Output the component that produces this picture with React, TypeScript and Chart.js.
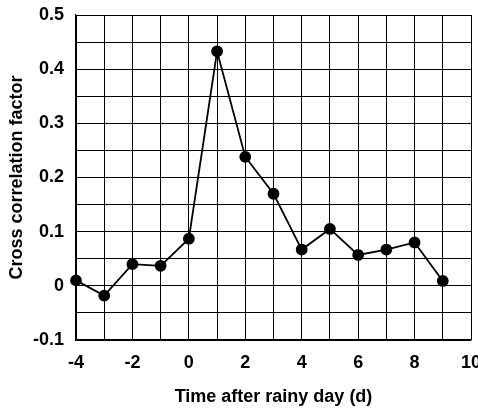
import React, { useEffect, useRef } from "react";
import { Chart, registerables } from "chart.js";

Chart.register(...registerables);

// Lag in days relative to the rainy day
const lagDays: number[] = [-4, -3, -2, -1, 0, 1, 2, 3, 4, 5, 6, 7, 8, 9];
// Cross correlation factor at each lag
const crossCorrelation: number[] = [
  0.01, -0.018, 0.04, 0.037, 0.087, 0.433, 0.238, 0.17, 0.067, 0.105, 0.057, 0.067, 0.08, 0.009,
];

const xMin = -4;
const xMax = 10;
const yMin = -0.1;
const yMax = 0.5;

const xTitle = "Time after rainy day (d)";
const yTitle = "Cross correlation factor";

const FONT = "Arial, 'Liberation Sans', Helvetica, sans-serif";

export default function App() {
  const canvasRef = useRef<HTMLCanvasElement | null>(null);

  useEffect(() => {
    document.body.style.margin = "0";
    const canvas = canvasRef.current;
    if (!canvas) return;

    const points = lagDays.map((x, i) => ({ x, y: crossCorrelation[i] }));

    const chart = new Chart(canvas, {
      type: "scatter",
      data: {
        datasets: [
          {
            data: points,
            showLine: true,
            clip: false,
            borderColor: "#000",
            backgroundColor: "#000",
            borderWidth: 1.8,
            pointRadius: 5,
            pointHoverRadius: 5,
            pointBackgroundColor: "#000",
            pointBorderColor: "#000",
            tension: 0,
          },
        ],
      },
      options: {
        responsive: false,
        animation: false,
        layout: { padding: { top: 15, right: 7, left: 0, bottom: 0 } },
        plugins: {
          legend: { display: false },
          tooltip: { enabled: false },
        },
        scales: {
          x: {
            type: "linear",
            min: xMin,
            max: xMax,
            border: { display: true, color: "#000", width: 1.2 },
            grid: { color: "#000", lineWidth: 1, drawTicks: false },
            ticks: {
              stepSize: 1,
              autoSkip: false,
              maxRotation: 0,
              padding: 12,
              color: "#000",
              font: { family: FONT, size: 18, weight: "bold" },
              callback: (v: any) => {
                const n = Number(v);
                return Math.round(n) % 2 === 0 ? String(Math.round(n)) : "";
              },
            },
            title: {
              display: true,
              text: xTitle,
              color: "#000",
              font: { family: FONT, size: 18, weight: "bold" },
              padding: { top: 12, bottom: 0 },
            },
            afterFit: (scale: any) => {
              scale.height = 68;
              scale.paddingLeft = 0;
              scale.paddingRight = 0;
            },
          },
          y: {
            type: "linear",
            min: yMin,
            max: yMax,
            border: { display: true, color: "#000", width: 1.2 },
            grid: { color: "#000", lineWidth: 1, drawTicks: false },
            ticks: {
              stepSize: 0.05,
              autoSkip: false,
              padding: 12,
              color: "#000",
              font: { family: FONT, size: 18, weight: "bold" },
              callback: (v: any) => {
                const n = Number(v) * 10;
                if (Math.abs(n - Math.round(n)) > 1e-6) return "";
                return String(Math.round(n) / 10);
              },
            },
            title: {
              display: true,
              text: yTitle,
              color: "#000",
              font: { family: FONT, size: 18, weight: "bold" },
              padding: { top: 6, bottom: 0 },
            },
            afterFit: (scale: any) => {
              scale.width = 76;
              scale.paddingTop = 0;
              scale.paddingBottom = 0;
            },
          },
        },
      },
    });

    return () => chart.destroy();
  }, []);

  return (
    <div style={{ width: 478, height: 408, background: "#fff" }}>
      <canvas ref={canvasRef} width={478} height={408} />
    </div>
  );
}
